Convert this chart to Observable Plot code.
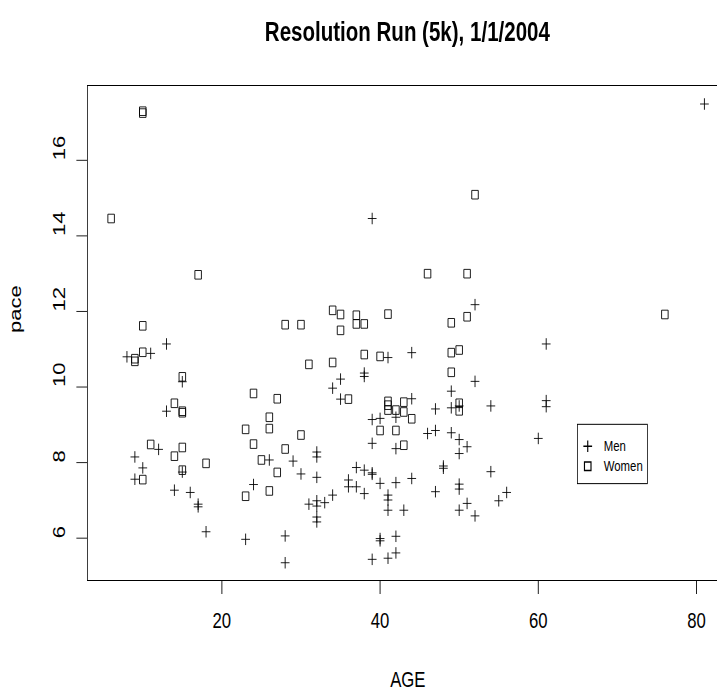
<!DOCTYPE html>
<html><head><meta charset="utf-8">
<script src="https://cdn.jsdelivr.net/npm/d3@7"></script>
<script src="https://cdn.jsdelivr.net/npm/@observablehq/plot@0.6"></script>
<style>
html,body{margin:0;padding:0;background:#fff;overflow:hidden;width:717px;height:696px;}
#wrap{position:absolute;left:0;top:0;width:960px;transform:scaleX(0.76);transform-origin:0 0;}
#title{height:70px;position:relative;font-family:"Liberation Sans",Arial,Helvetica,sans-serif;font-weight:bold;font-size:27px;color:#000;}
#title span{position:absolute;left:114.5px;width:843px;text-align:center;top:19px;line-height:27px;white-space:nowrap;}
#chart svg{display:block;max-width:none;}
</style></head><body>
<div id="wrap"><div id="title"><span>Resolution Run (5k), 1/1/2004</span></div><div id="chart"></div></div>
<script>
// ---- data (AGE, pace) ----
const menAge = [81,39,52,13,8,11,15,13,12,9,10,9,15,14,16,17,17,18,26,29,24,23,28,28,30,41,44,52,35,34,38,38,35,44,39,40,42,39,42,47,49,50,54,46,47,49,50,51,50,32,32,32,37,38,39,39,40,42,44,48,48,54,36,36,37,38,34,33,32,32,31,32,32,41,41,41,43,47,50,50,50,51,52,55,56,40,40,42,39,41,42,61,61,61,60,49];
const menPace = [17.49,14.46,12.18,11.14,10.8,10.89,10.14,9.36,8.35,8.15,7.86,7.56,7.75,7.27,7.21,6.9,6.83,6.17,8.07,8.04,7.42,5.97,6.06,5.35,7.7,10.78,10.91,10.15,10.21,9.97,10.37,10.28,9.68,9.69,9.14,9.17,9.2,8.51,8.37,9.42,9.45,9.5,9.5,8.77,8.85,8.79,8.61,8.42,8.24,8.28,8.15,7.61,7.87,7.8,7.73,7.69,7.45,7.47,7.58,7.91,7.85,7.76,7.54,7.36,7.36,7.18,7.14,6.94,6.99,6.85,6.9,6.56,6.43,7.14,7.01,6.74,6.74,7.23,7.43,7.3,6.74,6.92,6.59,6.99,7.21,5.99,5.93,6.05,5.44,5.47,5.61,11.14,9.64,9.48,8.64,9.89];
const womenAge = [10,10,6,17,10,28,30,52,46,51,34,35,37,37,38,41,35,49,51,76,9,9,10,15,14,15,15,11,15,14,10,15,18,24,27,26,26,23,24,28,25,27,26,23,30,31,34,38,40,49,50,49,36,41,41,41,42,43,43,44,40,42,43,50,50];
const womenPace = [17.3,17.25,14.46,12.97,11.62,11.65,11.65,15.09,13.0,13.0,12.03,11.92,11.9,11.67,11.67,11.93,11.5,11.7,11.86,11.92,10.75,10.68,10.92,10.27,9.57,9.32,9.36,8.48,8.4,8.17,7.55,7.8,7.98,9.83,9.69,9.2,8.9,8.88,8.49,8.36,8.07,7.74,7.25,7.11,8.73,10.6,10.65,10.86,10.81,10.91,10.98,10.39,9.68,9.62,9.52,9.39,9.39,9.6,9.34,9.16,8.85,8.85,8.46,9.57,9.37];
const xTicks = [20,40,60,80];
const yTicks = [6,8,10,12,14,16];
const xLabel = "AGE";
const yLabel = "pace";
const legendLabels = ["Men","Women"];
const legendAt = {x: 65, y: 9};

const men = menAge.map((a,i)=>({age:a, pace:menPace[i]}));
const women = womenAge.map((a,i)=>({age:a, pace:womenPace[i]}));

// ---- layout ----
const W = 960, H = 626;
const mL = 114.5, mR = 2.4, mT = 15, mB = 116;
const xDomain = [3, 84], yDomain = [4.88, 17.98];
const pxX = (W - mR - mL) / (xDomain[1] - xDomain[0]);
const pxY = (H - mB - mT) / (yDomain[1] - yDomain[0]);
const tick = 14;
const fs = 22;

const plusSym = {draw(ctx, size){const h = Math.sqrt(size)/2; ctx.moveTo(-h,0); ctx.lineTo(h,0); ctx.moveTo(0,-h); ctx.lineTo(0,h);}};
const squareSym = {draw(ctx, size){const w = Math.sqrt(size); ctx.rect(-w/2,-w/2,w,w);}};
const rPlus = 11.5/Math.sqrt(Math.PI), rSquare = 8.6/Math.sqrt(Math.PI);

const legW = 92, legH = 59.3;

const chart = Plot.plot({
  width: W, height: H,
  marginLeft: mL, marginRight: mR, marginTop: mT, marginBottom: mB,
  x: {domain: xDomain, axis: null},
  y: {domain: yDomain, axis: null},
  style: {fontFamily: "'Liberation Sans', Arial, Helvetica, sans-serif", background: "white", color: "black", overflow: "visible", fontSize: fs + "px"},
  marks: [
    Plot.frame({stroke: "black", strokeWidth: 1}),
    Plot.ruleX(xTicks, {x: d=>d, y1: yDomain[0], y2: yDomain[0] - tick/pxY, stroke: "black"}),
    Plot.ruleY(yTicks, {y: d=>d, x1: xDomain[0], x2: xDomain[0] - tick/pxX, stroke: "black"}),
    Plot.text(xTicks, {x: d=>d, text: d=>String(d), frameAnchor: "bottom", dy: 47, fontSize: fs, fill: "black"}),
    Plot.text(yTicks, {y: d=>d, text: d=>String(d), frameAnchor: "left", dx: -36, rotate: -90, fontSize: fs, fill: "black"}),
    Plot.text([xLabel], {text: d=>d, frameAnchor: "bottom", dy: 106, fontSize: fs, fill: "black"}),
    Plot.text([yLabel], {text: d=>d, frameAnchor: "left", dx: -94, rotate: -90, fontSize: fs, fill: "black"}),
    Plot.dot(men, {x: "age", y: "pace", symbol: plusSym, r: rPlus, fill: "none", stroke: "black", strokeWidth: 1}),
    Plot.dot(women, {x: "age", y: "pace", symbol: squareSym, r: rSquare, fill: "none", stroke: "black", strokeWidth: 1}),
    // legend
    Plot.rect([legendAt], {x1: d=>d.x, x2: d=>d.x + legW/pxX, y1: d=>d.y, y2: d=>d.y - legH/pxY, fill: "white", stroke: "black", strokeWidth: 1}),
    Plot.dot([legendAt], {x: d=>d.x, y: d=>d.y, dx: 13, dy: 21.5, symbol: plusSym, r: rPlus, fill: "none", stroke: "black"}),
    Plot.dot([legendAt], {x: d=>d.x, y: d=>d.y, dx: 13, dy: 41.5, symbol: squareSym, r: rSquare, fill: "none", stroke: "black"}),
    Plot.text([legendLabels[0]], {x: ()=>legendAt.x, y: ()=>legendAt.y, text: d=>d, dx: 34, dy: 21.5, textAnchor: "start", fontSize: 15, fill: "black"}),
    Plot.text([legendLabels[1]], {x: ()=>legendAt.x, y: ()=>legendAt.y, text: d=>d, dx: 34, dy: 41.5, textAnchor: "start", fontSize: 15, fill: "black"})
  ]
});
document.getElementById("chart").appendChild(chart);
</script>
</body></html>
